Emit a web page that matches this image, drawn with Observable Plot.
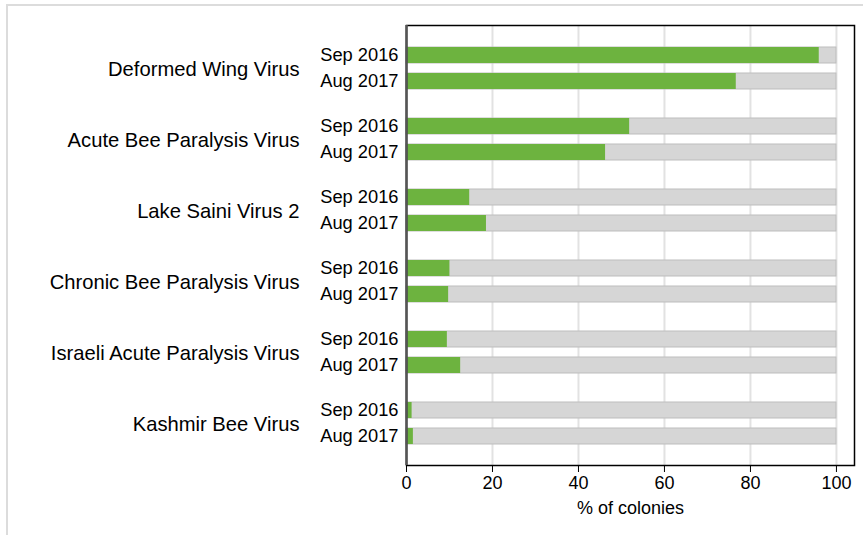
<!DOCTYPE html>
<html>
<head>
<meta charset="utf-8">
<script src="https://cdn.jsdelivr.net/npm/d3@7"></script>
<script src="https://cdn.jsdelivr.net/npm/@observablehq/plot@0.6"></script>
<style>
  html, body { margin: 0; padding: 0; background: #fff; }
  #wrap { position: relative; width: 863px; height: 535px; overflow: hidden; }
  #panel { position: absolute; left: 6px; top: 4px; right: -10px; bottom: -10px;
           border-top: 2px solid #dcdcdc; border-left: 2px solid #dcdcdc; pointer-events: none; }
  #chart { position: absolute; left: 0; top: 0; }
</style>
</head>
<body>
<div id="wrap"><div id="panel"></div><div id="chart"></div></div>
<script>
const viruses = [
  "Deformed Wing Virus",
  "Acute Bee Paralysis Virus",
  "Lake Saini Virus 2",
  "Chronic Bee Paralysis Virus",
  "Israeli Acute Paralysis Virus",
  "Kashmir Bee Virus"
];
const dates = ["Sep 2016", "Aug 2017"];
const sep2016 = [96.0, 51.9, 14.7, 10.1, 9.5, 1.3];
const aug2017 = [76.7, 46.3, 18.6, 9.8, 12.6, 1.6];
const xTicks = [0, 20, 40, 60, 80, 100];

const rows = [];
viruses.forEach((v, i) => {
  rows.push({virus: v, date: dates[0], value: sep2016[i], total: 100});
  rows.push({virus: v, date: dates[1], value: aug2017[i], total: 100});
});
const sepRows = rows.filter(d => d.date === dates[0]);
const augRows = rows.filter(d => d.date === dates[1]);

const font = "'Liberation Sans', Arial, Helvetica, sans-serif";
const inset = 26;

const chart = Plot.plot({
  width: 863,
  height: 535,
  marginLeft: 406,
  marginRight: 9,
  marginTop: 25,
  marginBottom: 70,
  style: {fontFamily: font, fontSize: "18px", color: "black", background: "transparent"},
  x: {domain: [0, 104.2], ticks: xTicks, tickSize: 7, tickPadding: 4,
      label: "% of colonies", labelAnchor: "center", labelOffset: 48, labelArrow: "none"},
  y: {domain: viruses, paddingInner: 0.41, paddingOuter: 0.29, axis: null},
  marks: [
    Plot.ruleX(xTicks.slice(1), {stroke: "#e2e2e2", strokeWidth: 2}),
    Plot.barX(sepRows, {x1: 0, x2: "total", y: "virus", fill: "#d6d6d6", stroke: "#bdbdbd", strokeWidth: 1, insetBottom: inset}),
    Plot.barX(augRows, {x1: 0, x2: "total", y: "virus", fill: "#d6d6d6", stroke: "#bdbdbd", strokeWidth: 1, insetTop: inset}),
    Plot.barX(sepRows, {x1: 0, x2: "value", y: "virus", fill: "#6db33f", insetBottom: inset}),
    Plot.barX(augRows, {x1: 0, x2: "value", y: "virus", fill: "#6db33f", insetTop: inset}),
    Plot.text(sepRows, {x: 0, y: "virus", text: "date", textAnchor: "end", dx: -8, dy: -13, fontSize: 18.3, fill: "black"}),
    Plot.text(augRows, {x: 0, y: "virus", text: "date", textAnchor: "end", dx: -8, dy: 13, fontSize: 18.3, fill: "black"}),
    Plot.text(sepRows, {x: 0, y: "virus", text: "virus", textAnchor: "end", dx: -107, dy: 1, fontSize: 20.2, fill: "black"}),
    Plot.frame({stroke: "black", strokeWidth: 1.5}),
    Plot.ruleX([0], {stroke: "#555", strokeWidth: 2.5})
  ]
});
document.getElementById("chart").appendChild(chart);
</script>
</body>
</html>
